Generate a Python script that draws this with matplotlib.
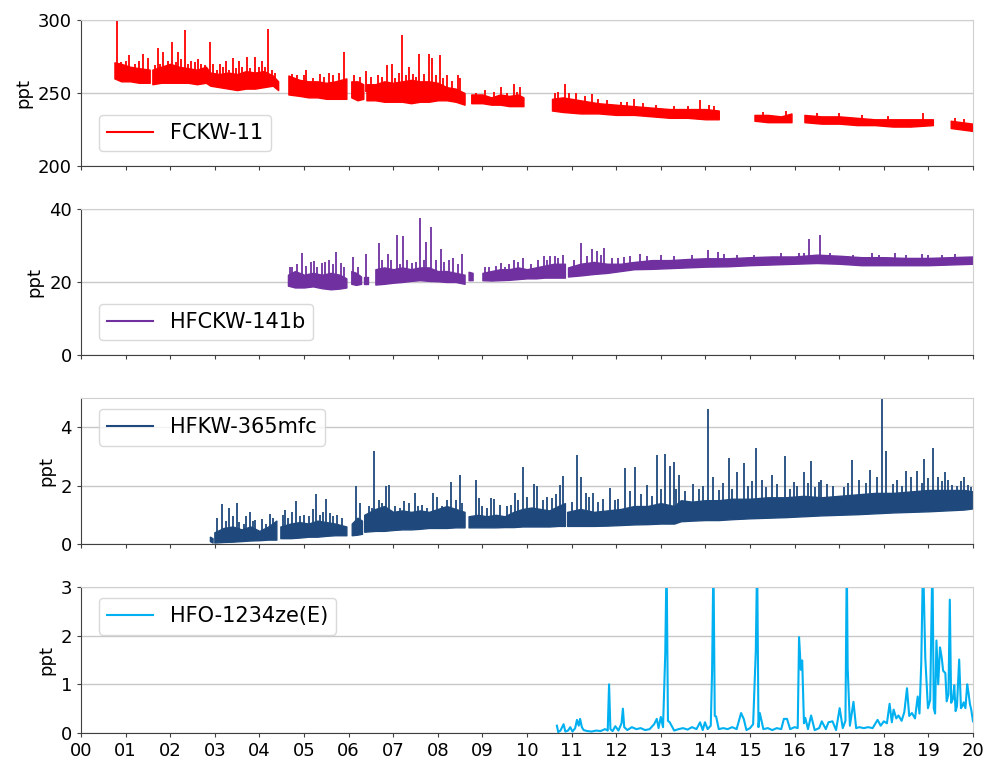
import numpy as np
import matplotlib
matplotlib.use('Agg')
import matplotlib.pyplot as plt
from matplotlib.lines import Line2D

# years after 2000; each sub-list is one uninterrupted measuring period
# band = typical low/high range of the record, spikes = pollution events

# CFC-11 (FCKW-11)
f11_x = [[0.75, 0.9, 1.1, 1.3, 1.54],
         [1.6, 1.8, 2.0, 2.2, 2.4, 2.6, 2.8, 2.9, 3.1, 3.3, 3.5, 3.7, 3.9, 4.1, 4.3, 4.42],
         [4.65, 4.9, 5.1, 5.3, 5.5, 5.7, 5.95],
         [6.06, 6.2, 6.33],
         [6.4, 6.6, 6.8, 7.0, 7.2, 7.4, 7.6, 7.8, 8.0, 8.2, 8.4, 8.6],
         [8.75, 9.0, 9.2, 9.4, 9.6, 9.8, 9.92],
         [10.56, 10.8, 11.2, 11.6, 12.0, 12.4, 12.8, 13.2, 13.6, 14.0, 14.3],
         [15.1, 15.4, 15.7, 15.93],
         [16.22, 16.6, 17.0, 17.4, 17.8, 18.2, 18.6, 19.1],
         [19.5, 19.75, 20.0]]
f11_lo = [[260, 258, 258, 257, 257],
          [256, 257, 257, 257, 257, 256, 257, 255, 254, 253, 252, 253, 253, 254, 255, 252],
          [249, 248, 247, 247, 246, 246, 246],
          [247, 245, 246],
          [245, 245, 244, 244, 244, 243, 244, 244, 245, 245, 244, 242],
          [243, 243, 242, 242, 241, 241, 241],
          [238, 237, 236, 236, 235, 235, 234, 233, 233, 232, 232],
          [231, 230, 230, 230],
          [230, 229, 229, 228, 228, 227, 227, 228],
          [226, 225, 224]]
f11_hi = [[271, 270, 268, 267, 266],
          [266, 268, 270, 268, 267, 266, 268, 264, 263, 264, 263, 265, 264, 265, 262, 258],
          [262, 259, 258, 258, 257, 258, 260],
          [258, 258, 256],
          [256, 256, 258, 257, 258, 259, 258, 258, 257, 254, 253, 250],
          [249, 249, 247, 249, 248, 249, 247],
          [246, 247, 245, 243, 242, 241, 240, 239, 239, 239, 238],
          [235, 235, 234, 236],
          [235, 234, 234, 233, 232, 232, 232, 232],
          [231, 230, 229]]
f11_spike_x = [0.81, 1.07, 1.38, 1.51, 1.72, 1.84, 2.05, 2.18, 2.34, 2.47, 2.63, 2.90,
               3.11, 3.25, 3.41, 3.55, 3.72, 3.90, 4.05, 4.19, 5.05, 5.55, 5.89, 6.38,
               6.87, 6.98, 7.20, 7.35, 7.58, 7.80, 7.87, 8.06, 8.20, 8.45, 9.41, 9.70,
               9.85, 10.63, 10.85, 11.45, 12.41, 13.88, 14.09, 18.87]
f11_spike_top = [301, 276, 277, 274, 281, 278, 285, 278, 293, 272, 273, 285,
                 270, 272, 274, 272, 275, 275, 272, 294, 266, 264, 278, 265,
                 269, 270, 290, 268, 277, 277, 274, 276, 262, 262, 254, 256,
                 254, 250, 256, 249, 246, 245, 242, 236]
f11_minor_x = [0.9, 1.0, 1.2, 1.3, 1.65, 1.78, 1.95, 2.12, 2.25, 2.4, 2.55, 2.7, 2.78,
               2.95, 3.05, 3.18, 3.32, 3.47, 3.62, 3.8, 3.98, 4.12, 4.28, 4.35, 4.72,
               4.85, 5.0, 5.2, 5.35, 5.45, 5.65, 5.78, 6.12, 6.25, 6.5, 6.65, 6.75,
               7.05, 7.12, 7.28, 7.45, 7.5, 7.68, 7.95, 8.12, 8.32, 8.5, 8.85, 9.05,
               9.25, 9.55, 9.78, 10.7, 10.95, 11.1, 11.3, 11.6, 11.8, 12.1, 12.25,
               12.6, 12.9, 13.3, 13.6, 14.2, 15.3, 15.8, 16.5, 17.0, 17.5, 18.1,
               19.6, 19.8]
f11_minor_top = [271, 272, 270, 272, 269, 270, 272, 271, 273, 270, 271, 270, 269,
                 270, 266, 268, 266, 267, 268, 267, 268, 268, 266, 264, 263,
                 262, 262, 260, 263, 261, 262, 264, 262, 261, 261, 262, 261,
                 260, 264, 262, 263, 261, 263, 262, 260, 258, 260, 250, 252,
                 251, 250, 251, 251, 250, 250, 248, 246, 245, 244, 244,
                 243, 242, 241, 241, 241, 237, 238, 236, 236, 235, 234,
                 233, 232]

# HCFC-141b (HFCKW-141b)
f141_x = [[4.64, 4.8, 5.0, 5.2, 5.4, 5.6, 5.8, 5.95],
          [6.06, 6.17, 6.28],
          [6.34, 6.43],
          [6.6, 6.8, 7.0, 7.2, 7.4, 7.6, 7.8, 8.0, 8.2, 8.4, 8.6],
          [8.69, 8.78],
          [9.0, 9.2, 9.4, 9.6, 9.8, 10.0, 10.2, 10.4, 10.6, 10.85],
          [10.92, 11.2, 11.5, 11.8, 12.1, 12.4, 12.8, 13.2, 13.6, 14.0, 14.5,
           15.0, 15.5, 16.0, 16.5, 17.0, 17.5, 18.0, 18.5, 19.0, 19.5, 20.0]]
f141_lo = [[19, 18.5, 18.5, 18.8, 18.3, 18.0, 18.2, 18.5],
           [19.5, 19.2, 19.5],
           [19.5, 19.5],
           [19.3, 19.5, 19.8, 20, 20.3, 20.5, 20.3, 20.2, 20.0, 20.0, 19.5],
           [20.5, 20.5],
           [20.5, 20.4, 20.5, 20.6, 20.8, 21, 21, 21.2, 21.2, 21.2],
           [21.5, 21.8, 22.2, 22.5, 23, 23.5, 23.6, 23.8, 24, 24.2, 24.3,
            24.6, 24.8, 25, 25.2, 25, 24.6, 24.6, 24.6, 24.6, 24.8, 25]]
f141_hi = [[22, 23, 22, 22.5, 22, 22.5, 22, 21],
           [23, 22.5, 21.5],
           [21.5, 21.5],
           [23.5, 24, 23.5, 24, 23.5, 24, 24, 23, 23, 22.5, 22],
           [22.8, 22.5],
           [22.5, 23, 23.5, 23.5, 24, 23.5, 24, 24.5, 25, 25],
           [24, 25, 25.5, 25, 25, 25.5, 26, 26, 26.3, 26.5, 26.5,
            26.8, 27, 27, 27.5, 27.2, 26.8, 26.8, 26.6, 26.6, 26.8, 27]]
f141_spike_x = [4.73, 4.96, 5.22, 5.41, 5.57, 5.71, 5.82, 6.1, 6.38, 6.69, 6.88, 7.09,
                7.22, 7.43, 7.61, 7.74, 7.85, 8.07, 8.34, 8.54, 9.06, 9.41, 9.7, 9.92,
                10.37, 10.52, 10.63, 10.8, 11.2, 11.45, 11.58, 11.73, 12.18, 12.3, 12.54,
                14.06, 14.28, 14.41, 16.1, 16.33, 16.58, 17.74, 18.25, 18.86]
f141_spike_top = [24.2, 27.9, 25.8, 25.1, 26, 28.3, 25.1, 26.9, 27.6, 30.8, 27.6, 33,
                  32.6, 25.1, 37.6, 31, 35, 29, 26.5, 27.6, 24.2, 25.1, 26, 26.5,
                  27.2, 27.2, 27.2, 27.4, 30.8, 29, 28.5, 29.2, 26.9, 27.2, 27.6,
                  28.8, 28.1, 27.6, 28, 31.7, 32.9, 27.9, 27.9, 27.6]
f141_minor_x = [4.68, 4.85, 5.05, 5.15, 5.3, 5.48, 5.65, 5.9, 6.2, 6.75, 6.95, 7.15,
                7.3, 7.5, 7.68, 7.95, 8.15, 8.25, 8.45, 9.15, 9.3, 9.5, 9.6, 9.8,
                10.1, 10.25, 10.45, 10.7, 11.05, 11.35, 11.65, 11.9, 12.05, 12.7,
                13.0, 13.3, 13.7, 14.7, 15.1, 15.7, 16.2, 16.8, 17.3, 17.9, 18.5,
                19.0, 19.3, 19.6]
f141_minor_top = [24, 25, 24.5, 25.5, 24, 25.5, 25, 24, 24, 26, 26, 25,
                  26, 25.5, 26, 26, 25.5, 26, 25, 24, 24.5, 24, 25, 25.5,
                  25, 26, 26, 26.5, 26, 27, 27.5, 26.5, 26.5, 27,
                  27.5, 27, 27.5, 27.5, 27.5, 28, 28, 28, 27.5, 27.5, 27.5,
                  27.5, 27.5, 27.8]

# HFC-365mfc (HFKW-365mfc)
f365_x = [[2.89, 2.95],
          [2.99, 3.2, 3.4, 3.6, 3.8, 4.0, 4.2, 4.38],
          [4.47, 4.7, 4.9, 5.1, 5.3, 5.5, 5.7, 5.95],
          [6.07, 6.2, 6.3],
          [6.35, 6.6, 6.8, 7.0, 7.2, 7.4, 7.6, 7.8, 8.0, 8.2, 8.4, 8.6],
          [8.69, 8.9, 9.1, 9.3, 9.5, 9.7, 9.9, 10.1, 10.3, 10.5, 10.7, 10.85],
          [10.9, 11.2, 11.5, 11.8, 12.1, 12.4, 12.7, 13.0, 13.3, 13.45, 13.7, 14.0, 14.3,
           14.6, 15.0, 15.4, 15.8, 16.2, 16.6, 17.0, 17.4, 17.8, 18.2, 18.6, 19.0,
           19.4, 19.8, 20.0]]
f365_lo = [[0.1, 0.05],
           [0.05, 0.07, 0.08, 0.1, 0.12, 0.13, 0.15, 0.15],
           [0.2, 0.2, 0.22, 0.25, 0.25, 0.28, 0.3, 0.3],
           [0.3, 0.32, 0.35],
           [0.42, 0.45, 0.45, 0.48, 0.5, 0.5, 0.52, 0.55, 0.55, 0.55, 0.57, 0.57],
           [0.57, 0.57, 0.57, 0.57, 0.58, 0.58, 0.6, 0.6, 0.6, 0.6, 0.62, 0.62],
           [0.62, 0.62, 0.62, 0.63, 0.65, 0.67, 0.68, 0.7, 0.7, 0.78, 0.8, 0.82, 0.82,
            0.85, 0.88, 0.9, 0.92, 0.95, 0.98, 1.0, 1.02, 1.05, 1.08, 1.1, 1.12,
            1.15, 1.18, 1.22]]
f365_hi = [[0.25, 0.2],
           [0.4, 0.55, 0.6, 0.5, 0.6, 0.45, 0.6, 0.8],
           [0.6, 0.7, 0.75, 0.7, 0.8, 0.75, 0.7, 0.6],
           [0.7, 0.9, 0.8],
           [1.0, 1.2, 1.3, 1.1, 1.15, 1.1, 1.15, 1.1, 1.2, 1.3, 1.2, 1.1],
           [0.95, 1.0, 0.95, 1.0, 0.95, 1.1, 1.2, 1.25, 1.2, 1.15, 1.3, 1.4],
           [1.1, 1.2, 1.1, 1.15, 1.2, 1.3, 1.3, 1.4, 1.3, 1.5, 1.45, 1.5, 1.5,
            1.55, 1.55, 1.6, 1.6, 1.65, 1.6, 1.65, 1.7, 1.75, 1.75, 1.8, 1.85,
            1.85, 1.85, 1.8]]
f365_spike_x = [3.17, 3.32, 3.49, 3.71, 3.8, 3.9, 4.23, 4.57, 4.81, 5.11, 5.28, 5.5,
                5.65, 6.16, 6.58, 6.69, 6.83, 6.9, 7.25, 7.48, 7.89, 7.98, 8.3, 8.49,
                8.86, 8.93, 9.19, 9.25, 9.73, 9.9, 10.16, 10.23, 10.56, 10.74, 10.8,
                11.12, 11.21, 11.33, 11.49, 11.85, 11.98, 12.2, 12.43, 12.69, 12.91,
                13.1, 13.21, 13.29, 13.4, 13.73, 14.06, 14.18, 14.52, 14.71, 14.87,
                15.13, 15.27, 15.49, 15.79, 15.98, 16.2, 16.37, 16.54, 16.73, 17.29,
                17.7, 17.85, 17.95, 18.05, 18.5, 18.75, 18.9, 19.1, 19.21, 19.37,
                19.53, 19.72, 19.88]
f365_spike_top = [1.37, 1.23, 1.42, 0.95, 1.09, 0.83, 1.03, 1.17, 1.46, 0.95, 1.71, 1.54,
                  0.95, 1.97, 3.19, 1.52, 2.0, 2.03, 1.46, 1.74, 1.74, 1.62, 2.14, 2.37,
                  2.2, 1.56, 1.57, 1.55, 1.74, 2.62, 2.05, 1.97, 1.57, 2.03, 2.34,
                  3.05, 2.28, 1.74, 1.74, 1.91, 1.51, 2.6, 2.62, 2.03, 3.05,
                  3.08, 2.66, 2.8, 2.37, 2.05, 4.62, 2.31, 2.94, 2.48, 2.77,
                  3.28, 2.2, 2.37, 3.0, 2.11, 2.48, 2.85, 2.14, 2.05, 2.88,
                  2.54, 2.31, 5.3, 3.17, 2.5, 2.5, 2.92, 3.3, 2.31, 2.46,
                  2.02, 2.16, 2.02]
f365_minor_x = [3.05, 3.25, 3.4, 3.55, 3.65, 3.85, 4.05, 4.15, 4.3, 4.52, 4.65, 4.72,
                4.9, 5.0, 5.2, 5.35, 5.42, 5.58, 5.75, 5.85, 6.25, 6.45, 6.52, 6.75,
                7.05, 7.15, 7.35, 7.55, 7.65, 7.75, 8.1, 8.2, 8.4, 8.55, 9.0, 9.1,
                9.4, 9.55, 9.65, 9.8, 10.0, 10.35, 10.45, 10.65, 11.0, 11.4, 11.6,
                11.7, 12.05, 12.3, 12.55, 12.8, 13.0, 13.35, 13.55, 13.85, 13.95,
                14.3, 14.4, 14.6, 14.95, 15.05, 15.35, 15.6, 15.9, 16.05, 16.3,
                16.45, 16.6, 16.85, 17.1, 17.2, 17.45, 17.6, 18.2, 18.3, 18.4,
                18.6, 18.85, 19.0, 19.3, 19.45, 19.65, 19.8, 19.95]
f365_minor_top = [0.9, 0.8, 0.95, 0.75, 0.7, 0.8, 0.85, 0.7, 0.9, 1.0, 0.9, 1.1,
                  0.95, 1.0, 1.2, 1.0, 1.1, 1.05, 1.0, 0.9, 1.4, 1.3, 1.25, 1.4,
                  1.3, 1.25, 1.4, 1.3, 1.35, 1.25, 1.3, 1.5, 1.5, 1.4, 1.3, 1.25,
                  1.35, 1.3, 1.35, 1.5, 1.6, 1.5, 1.6, 1.7, 1.45, 1.6, 1.45,
                  1.55, 1.55, 1.8, 1.7, 1.65, 1.9, 1.9, 1.8, 1.9, 2.0,
                  1.85, 2.1, 1.9, 2.0, 2.15, 1.95, 2.05, 1.9, 2.0, 2.1,
                  1.95, 2.2, 2.0, 1.95, 2.1, 2.2, 2.1, 2.05, 2.2, 2.0,
                  2.3, 2.1, 2.25, 2.15, 2.2, 2.0, 2.3, 1.95]

# HFO-1234ze(E)
f1234_x = [10.67, 10.70, 10.75, 10.82, 10.86, 10.92, 10.97, 11.02, 11.08, 11.12,
           11.16, 11.19, 11.23, 11.27, 11.35, 11.45, 11.55, 11.65, 11.75, 11.81,
           11.84, 11.87, 11.92, 11.98, 12.05, 12.12, 12.15, 12.18, 12.25, 12.35,
           12.45, 12.55, 12.65, 12.75, 12.85, 12.91, 12.95, 13.00, 13.05, 13.10,
           13.13, 13.16, 13.20, 13.30, 13.40, 13.50, 13.60, 13.70, 13.80, 13.88,
           13.94, 13.99, 14.05, 14.12, 14.15, 14.18, 14.21, 14.24, 14.30, 14.40,
           14.50, 14.60, 14.70, 14.80, 14.86, 14.92, 15.00, 15.07, 15.13, 15.16,
           15.19, 15.22, 15.30, 15.40, 15.50, 15.60, 15.70, 15.76, 15.83, 15.90,
           16.00, 16.07, 16.10, 16.14, 16.17, 16.21, 16.24, 16.30, 16.37, 16.45,
           16.55, 16.61, 16.70, 16.76, 16.85, 16.93, 17.01, 17.08, 17.14, 17.17,
           17.19, 17.24, 17.32, 17.38, 17.45, 17.55, 17.65, 17.75, 17.86, 17.93,
           18.00, 18.07, 18.13, 18.18, 18.22, 18.28, 18.33, 18.40, 18.46, 18.52,
           18.57, 18.63, 18.70, 18.76, 18.80, 18.84, 18.88, 18.93, 18.99, 19.04,
           19.09, 19.12, 19.15, 19.18, 19.22, 19.26, 19.30, 19.33, 19.38, 19.41,
           19.45, 19.48, 19.51, 19.55, 19.58, 19.61, 19.64, 19.69, 19.73, 19.76,
           19.79, 19.83, 19.87, 19.90, 19.93, 19.96, 20.00]
f1234_y = [0.15, 0.02, 0.05, 0.18, 0.03, 0.05, 0.12, 0.03, 0.10, 0.27,
           0.15, 0.29, 0.12, 0.06, 0.04, 0.03, 0.05, 0.04, 0.08, 0.05,
           1.00, 0.08, 0.04, 0.14, 0.05, 0.20, 0.50, 0.12, 0.06, 0.12,
           0.08, 0.10, 0.06, 0.08, 0.18, 0.29, 0.10, 0.33, 0.12, 1.63,
           3.60, 0.25, 0.22, 0.05, 0.08, 0.10, 0.07, 0.12, 0.08, 0.22,
           0.06, 0.22, 0.08, 0.15, 1.27, 3.60, 0.35, 0.34, 0.08, 0.10,
           0.08, 0.12, 0.08, 0.41, 0.29, 0.06, 0.10, 0.18, 1.68, 3.60,
           0.12, 0.41, 0.08, 0.10, 0.06, 0.10, 0.08, 0.29, 0.29, 0.08,
           0.12, 0.10, 1.97, 1.30, 1.49, 0.20, 0.31, 0.08, 0.36, 0.06,
           0.10, 0.24, 0.08, 0.22, 0.24, 0.06, 0.51, 0.10, 0.25, 3.60,
           1.34, 0.15, 0.64, 0.10, 0.12, 0.10, 0.12, 0.10, 0.27, 0.15,
           0.24, 0.20, 0.60, 0.22, 0.48, 0.30, 0.36, 0.25, 0.43, 0.92,
           0.35, 0.41, 0.30, 0.75, 0.40, 1.44, 3.60, 1.54, 0.51, 0.68,
           3.60, 0.51, 0.40, 1.90, 1.00, 1.76, 1.54, 1.28, 1.23, 0.65,
           0.80, 2.74, 0.62, 0.70, 0.98, 0.45, 0.55, 1.51, 0.51, 0.55,
           0.63, 0.51, 1.00, 0.82, 0.60, 0.48, 0.24]

names = ['FCKW-11', 'HFCKW-141b', 'HFKW-365mfc', 'HFO-1234ze(E)']
colors = ['#ff0000', '#7030a0', '#1f497d', '#00b0f0']
ylims = [(200, 300), (0, 40), (0, 5), (0, 3)]
yticks = [[200, 250, 300], [0, 20, 40], [0, 2, 4], [0, 1, 2, 3]]
year_ticks = list(range(0, 21))
year_labels = ['%02d' % y for y in year_ticks]


def draw_band(ax, xs, los, his, sx, stop, color):
    for x, lo, hi in zip(xs, los, his):
        ax.fill_between(x, lo, hi, color=color, lw=1.0)
    allx = np.concatenate([np.asarray(x, float) for x in xs])
    mid = (np.concatenate([np.asarray(v, float) for v in los]) +
           np.concatenate([np.asarray(v, float) for v in his])) / 2
    sx = np.asarray(sx, float)
    idx = np.abs(allx[:, None] - sx[None, :]).argmin(axis=0)
    ax.vlines(sx, mid[idx], stop, color=color, lw=1.3)


fig = plt.figure(figsize=(9.86, 7.62), dpi=100)
left, width, height = 81 / 986, 892 / 986, 146 / 762
bottoms = [166, 355, 544, 733]
axes = [fig.add_axes([left, 1 - b / 762, width, height]) for b in bottoms]

draw_band(axes[0], f11_x, f11_lo, f11_hi,
          f11_spike_x + f11_minor_x, f11_spike_top + f11_minor_top, colors[0])
draw_band(axes[1], f141_x, f141_lo, f141_hi,
          f141_spike_x + f141_minor_x, f141_spike_top + f141_minor_top, colors[1])
draw_band(axes[2], f365_x, f365_lo, f365_hi,
          f365_spike_x + f365_minor_x, f365_spike_top + f365_minor_top, colors[2])
axes[3].plot(f1234_x, f1234_y, color=colors[3], lw=1.5)

leg_loc = ['lower left', 'lower left', 'upper left', 'upper left']
leg_anchor = [(0.02, 0.10), (0.02, 0.10), (0.02, 0.925), (0.02, 0.925)]

for i, ax in enumerate(axes):
    ax.set_xlim(0, 20)
    ax.set_ylim(*ylims[i])
    ax.set_yticks(yticks[i])
    ax.set_xticks(year_ticks)
    if i == 3:
        ax.set_xticklabels(year_labels)
    else:
        ax.set_xticklabels([])
    ax.tick_params(labelsize=13, length=3, color='#404040')
    ax.grid(axis='y', color='#c8c8c8', lw=1)
    ax.set_axisbelow(True)
    for s in ['top', 'right']:
        ax.spines[s].set_color('#d0d0d0')
    for s in ['left', 'bottom']:
        ax.spines[s].set_color('#404040')
    ax.set_ylabel('ppt', fontsize=13)
    h = Line2D([], [], color=colors[i], lw=1.5)
    ax.legend([h], [names[i]], loc=leg_loc[i], bbox_to_anchor=leg_anchor[i],
              fontsize=15, handlelength=2.2, edgecolor='#d0d0d0', borderaxespad=0)

fig.savefig('out.png', dpi=100)
